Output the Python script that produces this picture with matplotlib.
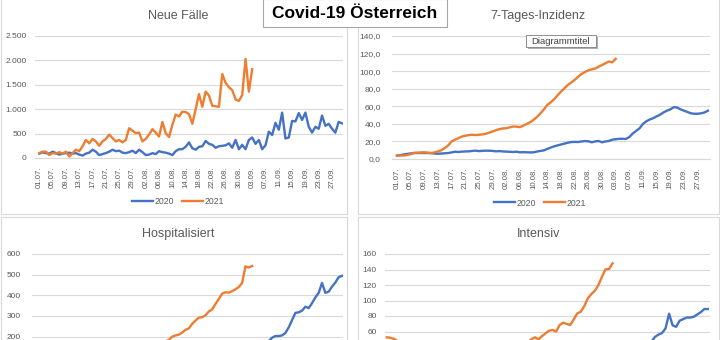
import matplotlib.pyplot as plt
from matplotlib.patches import Rectangle

# --- data (01.07. - 30.09.) ---
date_labels = ["01.07.", "05.07.", "09.07.", "13.07.", "17.07.", "21.07.", "25.07.", "29.07.",
               "02.08.", "06.08.", "10.08.", "14.08.", "18.08.", "22.08.", "26.08.", "30.08.",
               "03.09.", "07.09.", "11.09.", "15.09.", "19.09.", "23.09.", "27.09."]
legend_labels = ["2020", "2021"]

faelle_2020 = [90, 115, 100, 90, 130, 100, 70, 90, 100, 110, 90, 100, 70, 50,
               90, 110, 170, 130,
               60, 80, 100, 130, 170, 140, 150, 110, 100, 120, 150, 100, 170, 120, 60, 70, 100, 80, 140, 120,
               110, 90, 60, 140,
               180, 180, 230, 320, 200, 170, 230, 240, 350, 290, 270, 210, 240, 250, 260, 300, 210, 370,
               180, 270, 180, 370, 420, 290, 370, 180, 260, 540, 470, 720, 580, 930, 400, 420, 760, 750,
               920, 780, 930, 640, 520, 640, 600, 870, 660, 700, 600, 520, 740, 710]
faelle_2021 = [100, 130, 130, 60, 100, 90, 120, 90, 130, 30, 100, 170, 140, 240, 370, 300, 390,
               340, 250, 340, 390, 480, 410, 340, 370, 320, 370, 610, 560, 510, 520, 340, 390, 480, 590,
               520, 440, 740, 510, 430, 680, 890, 850, 950, 940, 900, 700, 1000, 1310, 1050, 1360, 1280,
               1070, 1060, 1050, 1720, 1540, 1450, 1390, 1200, 1170, 1290, 2030, 1360, 1820]

inzidenz_2020 = [3.8, 4.5, 5.2, 5.8, 6.3, 6.8, 6.8, 6.9, 6.8, 6.8, 6.7, 6.2, 6.0, 6.2, 6.5, 6.8, 7.5,
                 8.3, 8.0, 8.4, 8.6, 8.7, 9.2, 9.5, 9.0, 9.3, 9.5, 9.4, 9.2, 8.7, 9.0, 8.6, 8.4, 8.2,
                 8.0, 8.3, 7.6, 7.8, 7.6, 7.5, 7.6, 8.5, 9.2, 9.8, 11.5, 13.0, 14.4, 15.5, 16.5, 17.5,
                 18.5, 19.3, 19.5, 19.3, 20.0, 20.4, 20.2, 19.0, 20.0, 20.5, 19.0, 20.0, 20.5, 22.0,
                 22.5, 23.0, 23.0, 22.8, 25.0, 29.0, 32.0, 35.0, 40.0, 43.0, 45.0, 46.5, 48.5, 50.5,
                 53.0, 55.0, 56.5, 59.0, 58.5, 56.5, 55.0, 53.5, 52.0, 51.5, 51.5, 52.0, 53.0, 55.0]
inzidenz_2021 = [3.8, 4.0, 4.0, 4.5, 5.5, 7.0, 7.2, 7.4, 7.6, 7.2, 6.8, 7.5, 8.7, 10.0, 12.5,
                 15.5, 20.0, 22.0, 23.8, 25.5, 26.5, 27.2, 27.6, 27.3, 27.6, 28.0, 28.7, 30.0, 31.4,
                 32.8, 34.0, 34.8, 35.0, 36.0, 37.0, 36.8, 36.3, 38.0, 40.0, 42.0, 44.6, 48.0, 52.0,
                 56.5, 61.6, 64.5, 68.0, 72.5, 76.7, 80.5, 84.3, 87.0, 90.0, 93.5, 96.8, 99.0, 101.0,
                 102.0, 103.0, 105.0, 107.0, 109.0, 111.0, 110.0, 114.0]

hosp_2020 = [70, 68, 66, 65, 64, 63, 62, 62, 63, 64, 65, 66, 68, 70, 72, 74, 76, 78, 80, 82,
             84, 85, 86, 87, 88, 90, 92, 94, 95, 96, 97, 98, 99, 100, 100, 101, 102, 103, 104, 105,
             106, 107, 108, 110, 112, 114, 116, 118, 120, 122, 124, 126, 128, 130, 132, 134, 136, 138,
             140, 142, 145, 148, 151, 154, 158, 162, 166, 170, 174,
             178, 195, 203, 203, 206, 218, 245, 280, 315, 318, 326, 345, 338, 362, 390, 412, 460, 412,
             418, 442, 462, 488, 494]
hosp_2021 = [110, 100, 95, 90, 85, 80, 78, 75, 72, 70, 68, 66, 65, 64,
             65, 66, 68, 70, 73, 76, 80, 84, 88, 92, 96, 100, 105, 110, 115, 120, 126, 132, 138, 145,
             152, 158, 165, 172, 178,
             184, 200, 206, 210, 220, 233, 240, 262, 278, 292, 294, 303, 322, 332, 358, 383, 408, 415,
             413, 420, 429, 440, 460, 540, 535, 542]

intensiv_2020 = [14, 14, 13, 13, 12, 12, 12, 11, 11, 11, 11, 12, 12, 12, 13, 13, 14, 14, 15, 15,
                 16, 16, 17, 17, 18, 18, 19, 19, 20, 20, 20, 21, 21, 22, 22, 23, 23, 24, 24, 25,
                 25, 26, 26, 27, 27, 28, 28, 29, 29, 30, 30, 31, 31, 32, 32, 33, 33, 34, 34, 35,
                 35, 36, 36, 37, 38, 38, 39, 40, 41, 42, 43, 44, 45, 46, 46,
                 47, 53, 56, 58, 64, 83, 68, 66, 74, 76, 78, 78, 79, 82, 85, 89, 89]
intensiv_2021 = [52.5, 52, 50.5, 48, 46, 44, 42, 40, 38, 36, 35, 34, 33, 32, 31, 30, 30, 29, 29, 28,
                 28, 29, 29, 30, 30, 31, 32, 32, 33, 34, 35, 36, 37, 38, 39, 40, 41, 42, 44,
                 45, 46, 50, 52.5, 50, 54, 57.6, 61, 62, 60, 68.4, 71.4, 69.7, 68.4, 75.7, 83.4,
                 85.6, 93, 103, 108.4, 112.7, 120, 130.8, 140.2, 140.6, 148]

faelle_ticks = [0, 500, 1000, 1500, 2000, 2500]
faelle_labels = ["0", "500", "1.000", "1.500", "2.000", "2.500"]
inzidenz_ticks = [0, 20, 40, 60, 80, 100, 120, 140]
inzidenz_labels = ["0,0", "20,0", "40,0", "60,0", "80,0", "100,0", "120,0", "140,0"]
# lower charts are cut off by the screenshot: only the upper ticks are visible
hosp_ticks = [200, 300, 400, 500, 600]
intensiv_ticks = [60, 80, 100, 120, 140, 160]

# --- style ---
plt.rcParams['font.family'] = ['Liberation Sans', 'DejaVu Sans']
BLUE = '#4472C4'
ORANGE = '#ED7D31'
GRID = '#d9d9d9'
TXT = '#595959'
W, H = 720, 340

fig = plt.figure(figsize=(7.2, 3.4), dpi=100)
fig.patch.set_facecolor('white')


def fig_rect(x0, y0, x1, y1, **kw):
    # rectangle given in screenshot pixels (origin top-left)
    r = Rectangle((x0 / W, 1 - y1 / H), (x1 - x0) / W, (y1 - y0) / H,
                  transform=fig.transFigure, **kw)
    fig.add_artist(r)
    return r


def panel(plot_box, xlim, title, title_xy, d2020, d2021, ticks, labels, ypad,
          legend_xy=None, xlabels=True):
    x0, y0, x1, y1 = plot_box
    ax = fig.add_axes([x0 / W, 1 - y1 / H, (x1 - x0) / W, (y1 - y0) / H])
    ax.set_facecolor('none')
    ax.plot(range(len(d2020)), d2020, color=BLUE, lw=1.7, label=legend_labels[0],
            solid_joinstyle='round', zorder=3)
    ax.plot(range(len(d2021)), d2021, color=ORANGE, lw=1.7, label=legend_labels[1],
            solid_joinstyle='round', zorder=3)
    ax.set_xlim(*xlim)
    ax.set_ylim(0, ticks[-1])
    ax.set_yticks(ticks)
    ax.set_yticklabels(labels)
    ax.set_xticks(range(0, 92, 4))
    if xlabels:
        ax.set_xticklabels(date_labels, rotation=90)
    else:
        ax.set_xticklabels([])
    ax.tick_params(axis='y', length=0, pad=ypad, labelsize=6, labelcolor=TXT)
    ax.tick_params(axis='x', length=0, pad=6, labelsize=5.6, labelcolor=TXT)
    ax.grid(axis='y', color=GRID, lw=0.8)
    ax.set_axisbelow(True)
    for s in ['top', 'left', 'right']:
        ax.spines[s].set_visible(False)
    ax.spines['bottom'].set_color(GRID)
    ax.spines['bottom'].set_linewidth(0.8)
    fig.text(title_xy[0] / W, 1 - title_xy[1] / H, title, ha='center', va='center',
             fontsize=9, color=TXT)
    if legend_xy:
        ax.legend(loc='center', bbox_to_anchor=(legend_xy[0] / W, 1 - legend_xy[1] / H),
                  bbox_transform=fig.transFigure, ncol=2, frameon=False, fontsize=6.2,
                  handlelength=2.4, handletextpad=0.2, columnspacing=0.9, labelcolor=TXT)
    return ax


# panel frames (behind the axes)
for box in [(1, -2, 347, 214), (358, -2, 719, 214), (1, 217, 347, 345), (358, 217, 719, 345)]:
    fig_rect(*box, facecolor='white', edgecolor=GRID, lw=0.8, zorder=-5)

panel((35, 36, 343, 158), (-1.3, 91.3), "Neue Fälle", (178, 16), faelle_2020, faelle_2021,
      faelle_ticks, faelle_labels, 6, legend_xy=(178, 202))
panel((392, 36, 710, 159), (-1.45, 91.6), "7-Tages-Inzidenz", (538, 16), inzidenz_2020,
      inzidenz_2021, inzidenz_ticks, inzidenz_labels, 8, legend_xy=(540, 203))
panel((32, 254, 343, 378), (-2.1, 91.3), "Hospitalisiert", (178, 234), hosp_2020, hosp_2021,
      hosp_ticks, [str(t) for t in hosp_ticks], 8, xlabels=False)
panel((385, 254, 710, 378), (-0.5, 91.6), "Intensiv", (539, 234), intensiv_2020, intensiv_2021,
      intensiv_ticks, [str(t) for t in intensiv_ticks], 6, xlabels=False)

# main title box
fig_rect(263, -1, 447, 27, facecolor='white', edgecolor='#a6a6a6', lw=0.8, zorder=5)
fig.text(355 / W, 1 - 14 / H, "Covid-19 Österreich", ha='center', va='center',
         fontsize=12.5, fontweight='bold', color='black', zorder=6)

# "Diagrammtitel" placeholder box with shadow
fig_rect(527.5, 36.5, 597.5, 48.5, facecolor='#b0b0b0', edgecolor='none', zorder=5)
fig_rect(526, 35, 596, 47, facecolor='white', edgecolor='#8c8c8c', lw=0.7, zorder=6)
fig.text(561 / W, 1 - 41 / H, "Diagrammtitel", ha='center', va='center',
         fontsize=6.8, color='#404040', zorder=7)

fig.savefig('out.png', dpi=100)
